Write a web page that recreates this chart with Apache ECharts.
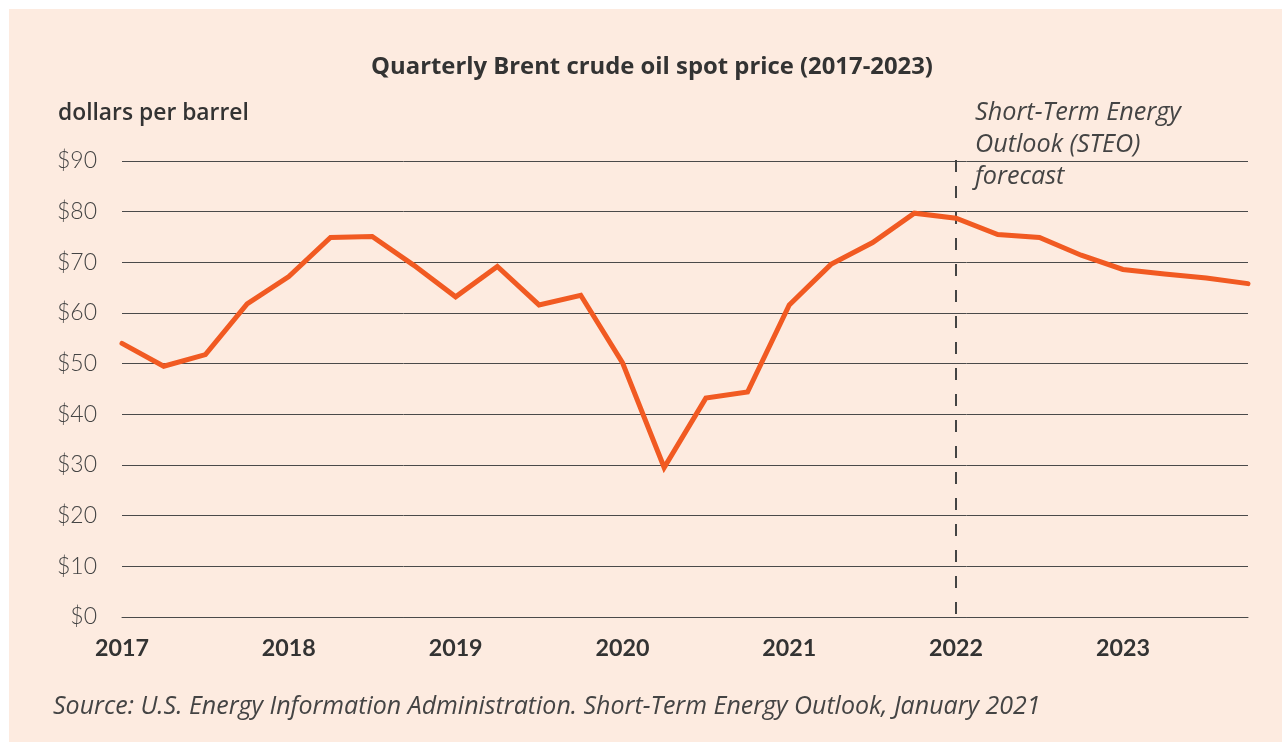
<!DOCTYPE html>
<html>
<head>
<meta charset="utf-8">
<script src="https://cdn.jsdelivr.net/npm/echarts@6/dist/echarts.min.js"></script>
<style>
  html, body { margin: 0; padding: 0; background: #ffffff; }
  #wrap { position: absolute; left: 9px; top: 9px; width: 1273px; height: 733px; background: #FDEBE0; }
  #chart { position: absolute; left: -9px; top: -9px; width: 1282px; height: 742px; }
</style>
</head>
<body>
<div id="wrap"><div id="chart"></div></div>
<script>
// Quarterly categories 2017Q1 .. 2023Q4
const quarters = [
  '2017Q1','2017Q2','2017Q3','2017Q4',
  '2018Q1','2018Q2','2018Q3','2018Q4',
  '2019Q1','2019Q2','2019Q3','2019Q4',
  '2020Q1','2020Q2','2020Q3','2020Q4',
  '2021Q1','2021Q2','2021Q3','2021Q4',
  '2022Q1','2022Q2','2022Q3','2022Q4',
  '2023Q1','2023Q2','2023Q3','2023Q4'
];
// Brent spot price, dollars per barrel
const brentPrice = [
  54.0, 49.5, 51.8, 61.8,
  67.2, 74.9, 75.1, 69.4,
  63.2, 69.2, 61.6, 63.5,
  50.2, 29.5, 43.2, 44.4,
  61.6, 69.6, 73.9, 79.7,
  78.7, 75.5, 74.9, 71.4,
  68.6, 67.7, 66.9, 65.8
];
const forecastStart = '2022Q1';
const yTicks = [0, 10, 20, 30, 40, 50, 60, 70, 80, 90];
const titleText = 'Quarterly Brent crude oil spot price (2017-2023)';
const unitText = 'dollars per barrel';
const noteLines = ['Short-Term Energy', 'Outlook (STEO)', 'forecast'];
const sourceText = 'Source: U.S. Energy Information Administration. Short-Term Energy Outlook, January 2021';

// font size that makes a text as wide as in the reference
const mctx = document.createElement('canvas').getContext('2d');
function fit(text, style, weight, family, width) {
  mctx.font = style + ' ' + weight + ' 100px ' + family;
  return 100 * width / mctx.measureText(text).width;
}
const TF = '"Open Sans"';
const titleSize = fit(titleText, 'normal', 'bold', TF, 562);
const unitSize = fit(unitText, 'normal', 600, TF, 191);
const noteSize = fit(noteLines[0], 'italic', 'normal', TF, 206);
const sourceSize = fit(sourceText, 'italic', 'normal', TF, 988);
const yearSize = fit('2017', 'normal', 'bold', 'Lato', 54);
const ySize = fit('$90', 'normal', 300, 'Lato', 40);

const chart = echarts.init(document.getElementById('chart'), null, { renderer: 'canvas' });
chart.setOption({
  backgroundColor: 'transparent',
  animation: false,
  graphic: [
    { type: 'text', x: 652, y: 67, silent: true,
      style: { text: titleText, textAlign: 'center', textVerticalAlign: 'middle',
        font: 'bold ' + titleSize + 'px ' + TF, fill: '#333333' } },
    { type: 'text', x: 58, y: 113, silent: true,
      style: { text: unitText, textAlign: 'left', textVerticalAlign: 'middle',
        font: '600 ' + unitSize + 'px ' + TF, fill: '#333333' } },
    { type: 'text', x: 975, y: 113, silent: true,
      style: { text: noteLines[0], textAlign: 'left', textVerticalAlign: 'middle',
        font: 'italic ' + noteSize + 'px ' + TF, fill: '#444444' } },
    { type: 'text', x: 975, y: 145, silent: true,
      style: { text: noteLines[1], textAlign: 'left', textVerticalAlign: 'middle',
        font: 'italic ' + noteSize + 'px ' + TF, fill: '#444444' } },
    { type: 'text', x: 975, y: 177, silent: true,
      style: { text: noteLines[2], textAlign: 'left', textVerticalAlign: 'middle',
        font: 'italic ' + noteSize + 'px ' + TF, fill: '#444444' } },
    { type: 'text', x: 53, y: 706.5, silent: true,
      style: { text: sourceText, textAlign: 'left', textVerticalAlign: 'middle',
        font: 'italic ' + sourceSize + 'px ' + TF, fill: '#444444' } }
  ],
  grid: { left: 122, right: 34, top: 161, bottom: 125, containLabel: false },
  xAxis: {
    type: 'category',
    data: quarters,
    boundaryGap: false,
    axisLine: { show: true, lineStyle: { color: '#4a4a4a', width: 1 } },
    axisTick: { show: false },
    splitLine: { show: false },
    axisLabel: {
      interval: 3,
      margin: Math.round(32 - yearSize / 2),
      fontFamily: 'Lato', fontWeight: 'bold', fontSize: yearSize, color: '#333333',
      formatter: v => v.slice(0, 4)
    }
  },
  yAxis: {
    type: 'value',
    min: 0, max: 90, interval: 10,
    axisLine: { show: false },
    axisTick: { show: false },
    splitLine: { show: true, lineStyle: { color: '#4a4a4a', width: 1 } },
    axisLabel: {
      margin: 25,
      fontFamily: 'Lato', fontWeight: 300, fontSize: ySize, color: '#444444',
      formatter: v => yTicks.includes(v) ? '$' + v : ''
    }
  },
  series: [{
    type: 'line',
    data: brentPrice,
    showSymbol: false,
    symbol: 'none',
    lineStyle: { color: '#F15A22', width: 5, cap: 'round', join: 'miter' },
    z: 3,
    markLine: {
      silent: true,
      symbol: 'none',
      label: { show: false },
      lineStyle: { color: '#444444', width: 2, type: [12, 14] },
      data: [[{ xAxis: forecastStart, y: 160 }, { xAxis: forecastStart, yAxis: 0 }]],
      z: 2
    }
  }]
});
</script>
</body>
</html>
